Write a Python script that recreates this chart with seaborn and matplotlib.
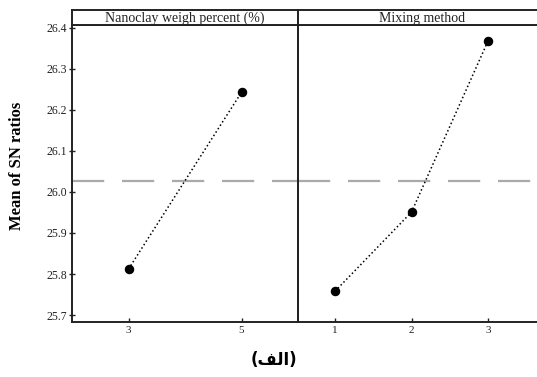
import matplotlib
matplotlib.use("Agg")
import matplotlib.pyplot as plt
import seaborn as sns
import pandas as pd

# data
nano_levels = ["3", "5"]
nano_means = [25.812, 26.243]
mix_levels = ["1", "2", "3"]
mix_means = [25.758, 25.951, 26.368]
grand_mean = 26.027
y_ticks = [25.7, 25.8, 25.9, 26.0, 26.1, 26.2, 26.3, 26.4]
panel_titles = ["Nanoclay weigh percent (%)", "Mixing method"]
y_label = "Mean of SN ratios"
caption = "(\uFED2\uFEDF\uFE8D)"  # (الف) in presentation forms, visual order

sns.set_theme(style="white")
plt.rcParams['font.family'] = ['Liberation Serif', 'DejaVu Serif']

W, H = 537, 377
fig = plt.figure(figsize=(W / 100, H / 100), dpi=100)

def rect(x0, y0, x1, y1):
    return [x0 / W, 1 - y1 / H, (x1 - x0) / W, (y1 - y0) / H]

top, bot = 25, 322
panels = [
    (72, 298, nano_levels, nano_means, (-0.5, 1.5), panel_titles[0]),
    (298, 546, mix_levels, mix_means, (-0.484, 2.758), panel_titles[1]),
]
axes = []
for i, (x0, x1, lv, mv, xl, title) in enumerate(panels):
    ax = fig.add_axes(rect(x0, top, x1, bot))
    ax.set_facecolor("none")
    df = pd.DataFrame({"level": lv, "mean": mv})
    sns.pointplot(data=df, x="level", y="mean", ax=ax, color="black",
                  markers="o", linestyles=":", errorbar=None,
                  markersize=6, linewidth=1.1)
    ax.axhline(grand_mean, color="#aaaaaa", lw=1.6, dashes=(14.5, 8), zorder=0)
    ax.set_xlim(*xl)
    ax.set_ylim(25.683, 26.407)
    ax.set_xlabel("")
    ax.set_ylabel("")
    for s in ax.spines.values():
        s.set_color("#222222")
        s.set_linewidth(1.4)
    ax.tick_params(axis="x", direction="in", length=3, width=1, labelsize=8,
                   pad=3, bottom=True, colors="#222222")
    ax.set_yticks(y_ticks)
    if i == 0:
        ax.set_yticklabels([f"{t:.1f}" for t in y_ticks])
        ax.tick_params(axis="y", direction="inout", length=5, width=1,
                       labelsize=8.5, pad=1, left=True, colors="#222222")
    else:
        ax.tick_params(axis="y", left=False, labelleft=False)
    axes.append(ax)

    sax = fig.add_axes(rect(x0, 10, x1, top))
    sax.set_xticks([])
    sax.set_yticks([])
    for s in sax.spines.values():
        s.set_color("#222222")
        s.set_linewidth(1.4)
    sax.text(0.5, 0.45, title, ha="center", va="center", fontsize=10,
             transform=sax.transAxes, color="#222222")

fig.text(17 / W, 1 - 166 / H, y_label, rotation=90, ha="center", va="center",
         fontsize=12, fontweight="bold", color="black")
fig.text(274 / W, 1 - 360 / H, caption, ha="center", va="center",
         fontsize=12, fontweight="bold", color="black",
         family=["DejaVu Sans"])

fig.savefig("out.png", dpi=100, facecolor="white")
